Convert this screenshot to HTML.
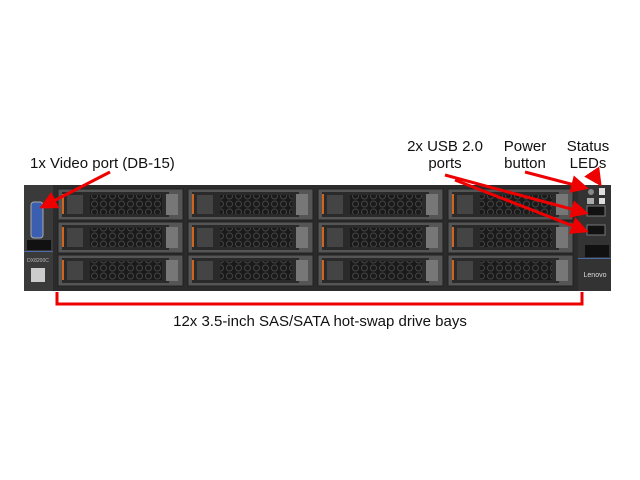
<!DOCTYPE html>
<html><head><style>
body{margin:0;width:640px;height:480px;background:#fff;position:relative;overflow:hidden;font-family:"Liberation Sans",Arial,sans-serif}
.t{position:absolute;font-size:15px;color:#111;text-align:center;line-height:17px}
</style></head><body>
<svg width="640" height="480" style="position:absolute;left:0;top:0">
<defs>
<pattern id="hex" width="9" height="8" patternUnits="userSpaceOnUse">
<rect width="9" height="8" fill="#1a1a1a"/>
<circle cx="4.5" cy="4" r="3" fill="none" stroke="#444" stroke-width="1"/>
</pattern>
<marker id="ah" markerWidth="6" markerHeight="6" refX="5" refY="3" orient="auto"><path d="M0,0L6,3L0,6z" fill="#e00"/></marker>
</defs>
<!-- chassis -->
<rect x="24" y="185" width="587" height="106" fill="#2b2b2b"/>
<rect x="24" y="185" width="29" height="106" fill="#3a3a3a"/>
<rect x="31" y="202" width="12" height="36" rx="3" fill="#3a5fb0" stroke="#aaa"/>
<rect x="27" y="240" width="24" height="10" fill="#111"/>
<rect x="24" y="251" width="29" height="1" fill="#4a6aa8"/>
<text x="38" y="262" font-size="5" fill="#bbb" text-anchor="middle" font-family="Liberation Sans">DX8200C</text>
<rect x="31" y="268" width="14" height="14" fill="#ccc"/>
<rect x="578" y="185" width="33" height="106" fill="#333"/>
<rect x="587" y="206" width="18" height="10" fill="#111" stroke="#777"/>
<rect x="587" y="225" width="18" height="10" fill="#111" stroke="#777"/>
<rect x="585" y="245" width="24" height="12" fill="#111"/>
<rect x="578" y="258" width="33" height="1" fill="#4a6aa8"/>
<text x="595" y="277" font-size="7" fill="#ddd" text-anchor="middle" font-family="Liberation Sans">Lenovo</text>
<circle cx="591" cy="192" r="3" fill="#888"/><rect x="599" y="188" width="6" height="7" fill="#ddd"/>
<rect x="587" y="198" width="7" height="6" fill="#aaa"/><rect x="599" y="198" width="6" height="6" fill="#ddd"/>
<g id="drives"></g>
<!-- bracket -->
<path d="M57,292V304H582V292" fill="none" stroke="#e00" stroke-width="3"/>
<!-- arrows -->
<g stroke="#e00" stroke-width="3" fill="none" marker-end="url(#ah)">
<line x1="110" y1="172" x2="42" y2="207"/>
<line x1="445" y1="175" x2="586" y2="213"/>
<line x1="455" y1="180" x2="586" y2="231"/>
<line x1="525" y1="172" x2="586" y2="188"/>
<line x1="592" y1="172" x2="600" y2="184"/>
</g>
</svg>
<div class="t" style="left:30px;top:155px">1x Video port (DB-15)</div>
<div class="t" style="left:395px;top:138px;width:100px">2x USB 2.0<br>ports</div>
<div class="t" style="left:495px;top:138px;width:60px">Power<br>button</div>
<div class="t" style="left:558px;top:138px;width:60px">Status<br>LEDs</div>
<div class="t" style="left:130px;top:313px;width:380px">12x 3.5-inch SAS/SATA hot-swap drive bays</div>
<script>
var g=document.getElementById('drives'),s='';
var cols=[58,188,318,448],rows=[189,222,255];
cols.forEach(function(x){rows.forEach(function(y){
s+='<rect x="'+x+'" y="'+y+'" width="125" height="31" fill="#555" stroke="#222"/>';
s+='<rect x="'+(x+4)+'" y="'+(y+3)+'" width="107" height="25" fill="#2a2a2a"/>';
s+='<rect x="'+(x+4)+'" y="'+(y+5)+'" width="2" height="20" fill="#d0661e"/>';
s+='<rect x="'+(x+9)+'" y="'+(y+6)+'" width="16" height="19" fill="#444"/>';
s+='<rect x="'+(x+32)+'" y="'+(y+6)+'" width="72" height="19" fill="url(#hex)"/>';
s+='<rect x="'+(x+108)+'" y="'+(y+5)+'" width="12" height="21" fill="#777"/>';
});});
g.innerHTML=s;
</script>
</body></html>
